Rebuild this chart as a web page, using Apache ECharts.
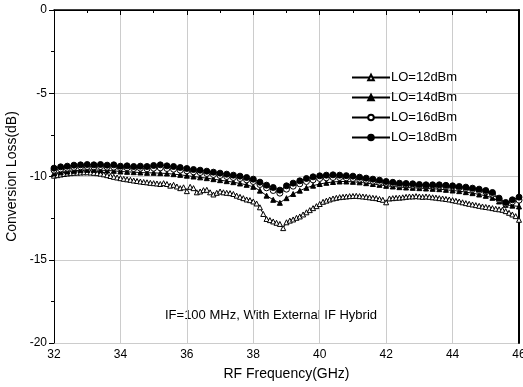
<!DOCTYPE html>
<html>
<head>
<meta charset="utf-8">
<script src="https://cdn.jsdelivr.net/npm/echarts@6/dist/echarts.min.js"></script>
<style>html,body{margin:0;padding:0;background:#fff}#c{width:523px;height:387px}</style>
</head>
<body>
<div id="c"></div>
<script>
// Frequencies (GHz): LO=12dBm sampled every 0.1 GHz, others every 0.2 GHz
const freqFine = [];
for (let i = 0; i <= 140; i++) freqFine.push(+(32 + i * 0.1).toFixed(1));
const freqCoarse = [];
for (let i = 0; i <= 70; i++) freqCoarse.push(+(32 + i * 0.2).toFixed(1));

const lo12 = [
  -9.95,-9.92,-9.88,-9.85,-9.82,-9.80,-9.78,-9.77,-9.76,-9.75,-9.75,
  -9.76,-9.78,-9.80,-9.83,-9.87,-9.92,-9.97,-10.02,-10.06,-10.10,
  -10.14,-10.17,-10.20,-10.24,-10.27,-10.30,-10.33,-10.35,-10.38,-10.40,
  -10.42,-10.45,-10.40,-10.45,-10.55,-10.50,-10.60,-10.70,-10.65,-10.88,
  -10.62,-10.70,-10.95,-10.90,-10.82,-10.80,-10.95,-11.08,-10.98,-10.90,
  -10.95,-10.98,-11.00,-11.05,-11.15,-11.22,-11.30,-11.38,-11.42,-11.50,
  -11.62,-11.85,-12.25,-12.55,-12.62,-12.70,-12.78,-12.85,-13.10,-12.75,
  -12.65,-12.58,-12.48,-12.40,-12.28,-12.15,-12.02,-11.90,-11.78,-11.65,
  -11.52,-11.45,-11.38,-11.32,-11.28,-11.24,-11.22,-11.20,-11.18,-11.17,
  -11.16,-11.18,-11.20,-11.22,-11.25,-11.28,-11.30,-11.35,-11.40,-11.55,
  -11.32,-11.30,-11.28,-11.27,-11.25,-11.22,-11.20,-11.20,-11.18,-11.20,
  -11.22,-11.20,-11.22,-11.25,-11.27,-11.30,-11.32,-11.35,-11.38,-11.42,
  -11.46,-11.50,-11.55,-11.60,-11.64,-11.68,-11.72,-11.76,-11.80,-11.83,
  -11.86,-11.90,-11.94,-11.97,-12.00,-12.08,-12.18,-12.28,-12.38,-12.60
];
const lo14 = [
  -9.82,-9.75,-9.70,-9.66,-9.62,-9.60,-9.60,-9.62,-9.64,-9.66,-9.70,
  -9.72,-9.74,-9.76,-9.78,-9.78,-9.80,-9.82,-9.86,-9.90,-9.95,
  -10.00,-10.05,-10.10,-10.16,-10.22,-10.28,-10.34,-10.42,-10.50,-10.62,
  -10.85,-11.15,-11.40,-11.58,-11.30,-11.05,-10.85,-10.68,-10.55,-10.45,
  -10.38,-10.33,-10.30,-10.30,-10.32,-10.35,-10.40,-10.45,-10.50,-10.56,
  -10.60,-10.64,-10.66,-10.68,-10.70,-10.72,-10.74,-10.76,-10.80,-10.84,
  -10.88,-10.94,-11.00,-11.08,-11.16,-11.28,-11.50,-11.70,-11.75,-11.80
];
const lo16 = [
  -9.62,-9.55,-9.50,-9.45,-9.42,-9.40,-9.42,-9.40,-9.44,-9.44,-9.48,
  -9.48,-9.52,-9.50,-9.54,-9.50,-9.48,-9.52,-9.56,-9.62,-9.66,
  -9.72,-9.76,-9.82,-9.88,-9.94,-10.00,-10.06,-10.12,-10.20,-10.30,
  -10.48,-10.68,-10.84,-11.00,-10.76,-10.58,-10.44,-10.30,-10.20,-10.12,
  -10.08,-10.06,-10.06,-10.08,-10.12,-10.16,-10.22,-10.28,-10.34,-10.40,
  -10.44,-10.48,-10.50,-10.52,-10.55,-10.56,-10.57,-10.58,-10.60,-10.63,
  -10.67,-10.72,-10.78,-10.84,-10.92,-11.06,-11.38,-11.64,-11.52,-11.42
];
const lo18 = [
  -9.50,-9.42,-9.38,-9.32,-9.30,-9.28,-9.30,-9.28,-9.32,-9.30,-9.38,
  -9.36,-9.40,-9.38,-9.40,-9.34,-9.30,-9.36,-9.40,-9.46,-9.52,
  -9.58,-9.62,-9.68,-9.74,-9.80,-9.86,-9.92,-9.98,-10.06,-10.16,
  -10.34,-10.52,-10.66,-10.82,-10.56,-10.40,-10.26,-10.12,-10.02,-9.96,
  -9.92,-9.90,-9.92,-9.95,-9.98,-10.04,-10.10,-10.16,-10.22,-10.30,
  -10.35,-10.40,-10.42,-10.44,-10.48,-10.50,-10.50,-10.50,-10.53,-10.56,
  -10.60,-10.64,-10.70,-10.76,-10.84,-10.96,-11.30,-11.56,-11.40,-11.24
];
const seriesNames = ['LO=12dBm','LO=14dBm','LO=16dBm','LO=18dBm'];
const annotation = 'IF=100 MHz, With External IF Hybrid';

function pairs(xs, ys){ return xs.map((x,i)=>[x, ys[i]]); }

const FONT = '"Liberation Sans", Arial, sans-serif';
const chart = echarts.init(document.getElementById('c'), null, {renderer:'canvas'});

function mk(name, xs, ys, symbol, filled, size){
  return {
    name, type:'line', data: pairs(xs, ys),
    symbol, symbolSize: size, showAllSymbol: true,
    lineStyle:{color:'#000', width:1},
    itemStyle:{color: filled ? '#000' : '#fff', borderColor:'#000', borderWidth:1},
    emphasis:{disabled:true}, animation:false
  };
}

chart.setOption({
  animation:false,
  textStyle:{fontFamily:FONT},
  grid:{left:54, right:4, top:10, bottom:44, containLabel:false, outerBoundsMode:'none'},
  legend:{
    orient:'vertical', left:346, top:66, itemGap:7, itemWidth:38, itemHeight:7,
    textStyle:{fontFamily:FONT, fontSize:13, color:'#000', padding:[0,0,0,-4]},
    data: seriesNames
  },
  xAxis:[{
    type:'value', min:32, max:46, interval:2,
    name:'RF Frequency(GHz)', nameLocation:'middle', nameGap:24,
    nameTextStyle:{fontFamily:FONT, fontSize:14, color:'#000'},
    axisLine:{show:true, lineStyle:{color:'#000', width:1}},
    axisTick:{show:true, length:5, lineStyle:{color:'#000'}},
    minorTick:{show:true, splitNumber:2, length:3, lineStyle:{color:'#000'}},
    axisLabel:{fontFamily:FONT, fontSize:12, color:'#000', margin:6},
    splitLine:{show:true, lineStyle:{color:'#cccccc', width:1}}
  },{
    type:'value', min:32, max:46, position:'top',
    axisLine:{show:true, lineStyle:{color:'#000', width:1.5}},
    axisTick:{show:false}, axisLabel:{show:false}, splitLine:{show:false}
  }],
  yAxis:[{
    type:'value', min:-20, max:0, interval:5,
    name:'Conversion Loss(dB)', nameLocation:'middle', nameGap:34,
    nameTextStyle:{fontFamily:FONT, fontSize:14, color:'#000'},
    axisLine:{show:true, lineStyle:{color:'#000', width:1}},
    axisTick:{show:true, length:5, lineStyle:{color:'#000'}},
    minorTick:{show:true, splitNumber:2, length:3, lineStyle:{color:'#000'}},
    axisLabel:{fontFamily:FONT, fontSize:12, color:'#000', margin:7},
    splitLine:{show:true, lineStyle:{color:'#cccccc', width:1}}
  },{
    type:'value', min:-20, max:0, position:'right',
    axisLine:{show:true, lineStyle:{color:'#000', width:2}},
    axisTick:{show:false}, axisLabel:{show:false}, splitLine:{show:false}
  }],
  graphic:[{
    type:'text', left:165, top:309,
    style:{text:annotation, fontFamily:FONT, fontSize:13, fill:'#000'}
  }],
  series:[
    mk(seriesNames[0], freqFine, lo12, 'triangle', false, 5),
    mk(seriesNames[1], freqCoarse, lo14, 'triangle', true, 5),
    mk(seriesNames[2], freqCoarse, lo16, 'circle', false, 6),
    mk(seriesNames[3], freqCoarse, lo18, 'circle', true, 6)
  ]
});
</script>
</body>
</html>
